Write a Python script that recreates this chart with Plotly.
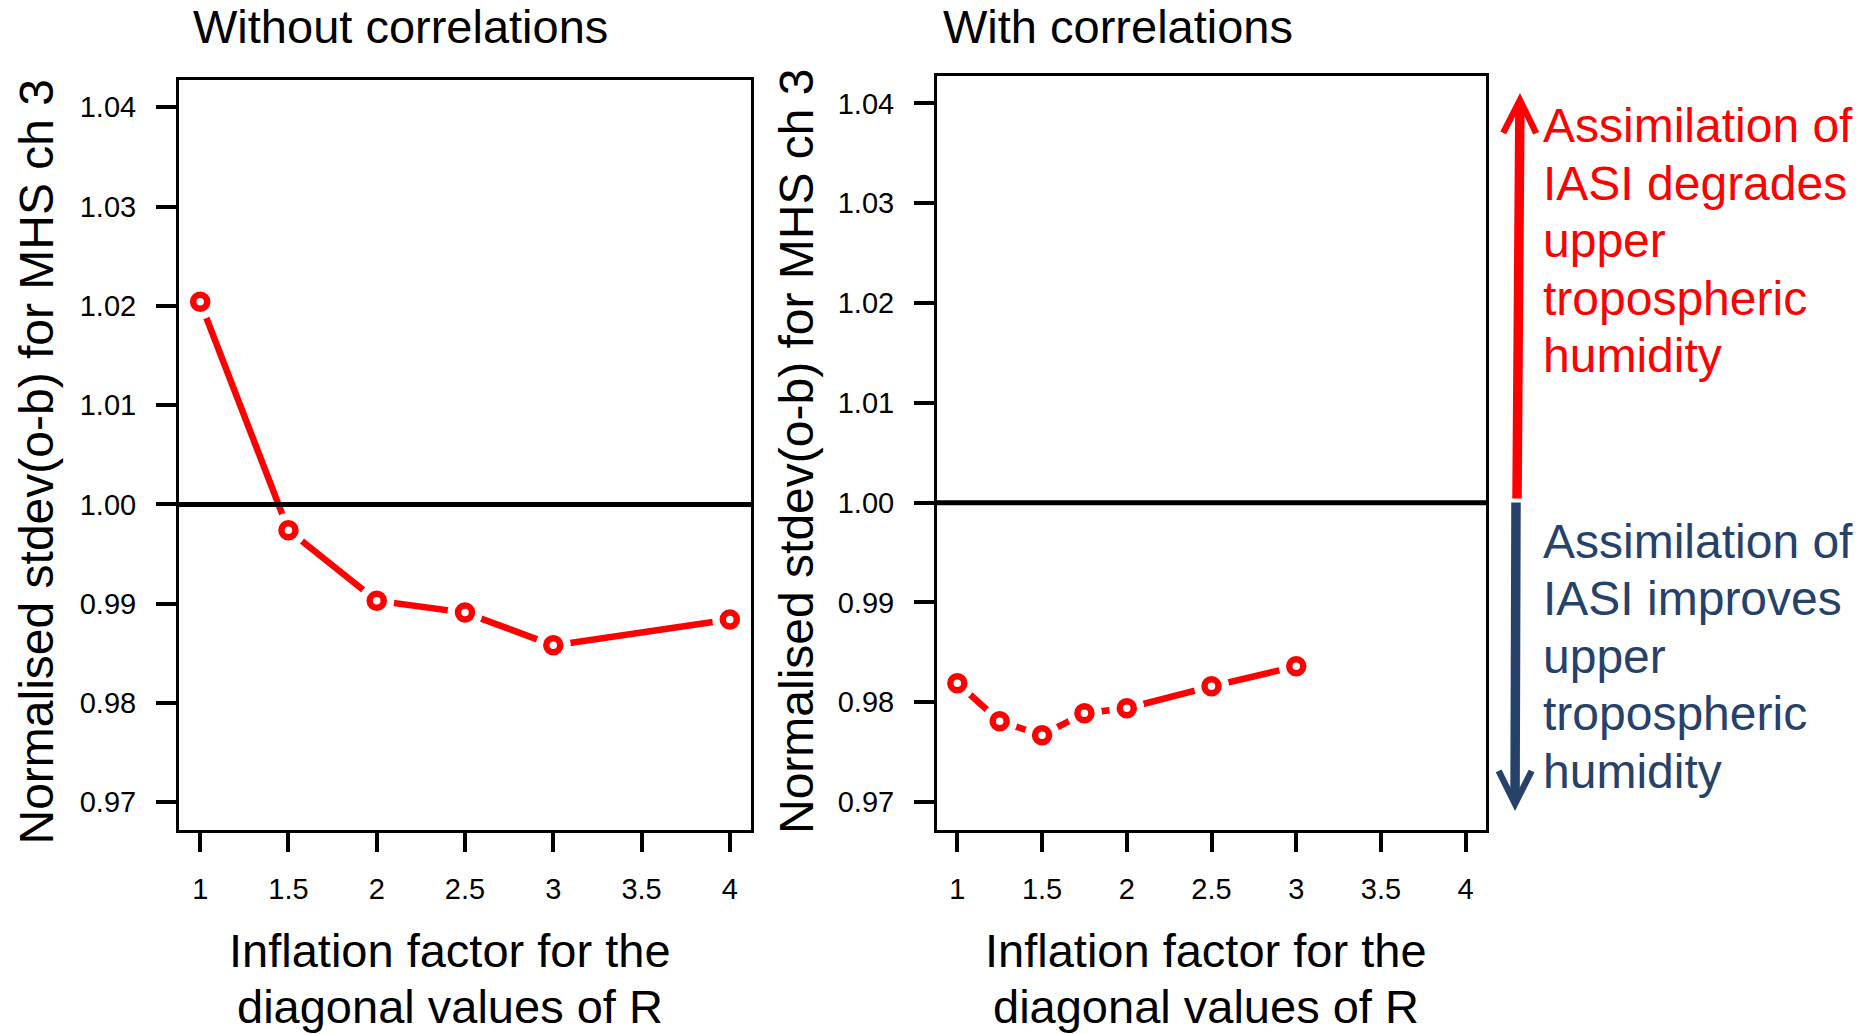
import plotly.graph_objects as go

# ---------------- data ----------------
x_without = [1, 1.5, 2, 2.5, 3, 4]
y_without = [1.0204, 0.9974, 0.9903, 0.9891, 0.9858, 0.9884]

x_with = [1, 1.25, 1.5, 1.75, 2, 2.5, 3]
y_with = [0.9819, 0.9781, 0.9767, 0.9789, 0.9794, 0.9816, 0.9836]

x_ticks = [1, 1.5, 2, 2.5, 3, 3.5, 4]
x_ticklabels = ["1", "1.5", "2", "2.5", "3", "3.5", "4"]
y_ticks = [0.97, 0.98, 0.99, 1.00, 1.01, 1.02, 1.03, 1.04]
y_ticklabels = ["0.97", "0.98", "0.99", "1.00", "1.01", "1.02", "1.03", "1.04"]

panel_titles = ["Without correlations", "With correlations"]
x_title_lines = ["Inflation factor for the", "diagonal values of R"]
y_title = "Normalised stdev(o-b) for MHS ch 3"
red_lines = ["Assimilation of", "IASI degrades", "upper", "tropospheric", "humidity"]
blue_lines = ["Assimilation of", "IASI improves", "upper", "tropospheric", "humidity"]

# ---------------- style ----------------
W, H = 1867, 1034
FONT = "Liberation Sans, Arial, sans-serif"
RED = "#FF0000"
BLUE = "#26416A"

def px_x(p):
    return p / W

def px_y(p):
    return 1 - p / H

fig = go.Figure()

def add_series(xs, ys, xa, ya):
    fig.add_trace(go.Scatter(x=xs, y=ys, xaxis=xa, yaxis=ya, mode="lines",
                             line=dict(color=RED, width=6.5), hoverinfo="skip",
                             showlegend=False))
    fig.add_trace(go.Scatter(x=xs, y=ys, xaxis=xa, yaxis=ya, mode="markers",
                             marker=dict(symbol="circle", size=35, color="white",
                                         line=dict(width=0)),
                             hoverinfo="skip", showlegend=False))
    fig.add_trace(go.Scatter(x=xs, y=ys, xaxis=xa, yaxis=ya, mode="markers",
                             marker=dict(symbol="circle-open", size=14, color=RED,
                                         line=dict(width=6.5, color=RED)),
                             showlegend=False))

add_series(x_without, y_without, "x", "y")
add_series(x_with, y_with, "x2", "y2")

axis_common = dict(showgrid=False, zeroline=False, showline=True, linecolor="black",
                   linewidth=3, mirror=True, ticks="outside", tickwidth=3.5,
                   tickcolor="black", tickfont=dict(family=FONT, size=29, color="black"))

xr = [0.88, 4.12]
yr = [0.9672, 1.0428]

fig.update_layout(
    width=W, height=H, margin=dict(l=0, r=0, t=0, b=0),
    paper_bgcolor="white", plot_bgcolor="white",
    xaxis=dict(domain=[px_x(179), px_x(751)], range=xr, tickvals=x_ticks,
               ticktext=x_ticklabels, ticklen=19, ticklabelstandoff=12, anchor="y",
               **axis_common),
    yaxis=dict(domain=[px_y(830), px_y(79.5)], range=yr, tickvals=y_ticks,
               ticktext=y_ticklabels, ticklen=20, ticklabelstandoff=14, anchor="x",
               **axis_common),
    xaxis2=dict(domain=[px_x(937), px_x(1486)], range=xr, tickvals=x_ticks,
                ticktext=x_ticklabels, ticklen=19, ticklabelstandoff=12, anchor="y2",
                **axis_common),
    yaxis2=dict(domain=[px_y(830), px_y(75.5)], range=yr, tickvals=y_ticks,
                ticktext=y_ticklabels, ticklen=20, ticklabelstandoff=14, anchor="x2",
                **axis_common),
)

# reference line at 1.00
for xref, yref in [("x domain", "y"), ("x2 domain", "y2")]:
    fig.add_shape(type="line", xref=xref, yref=yref, x0=0, x1=1, y0=1.0, y1=1.0,
                  line=dict(color="black", width=5))

ann = []
# panel titles
for txt, cx in zip(panel_titles, [400.7, 1118]):
    ann.append(dict(text=txt, x=px_x(cx), y=px_y(26), xref="paper", yref="paper",
                    xanchor="center", yanchor="middle", showarrow=False,
                    font=dict(family=FONT, size=47, color="black")))
# x titles
for cx in [450, 1205.6]:
    for line, cy in zip(x_title_lines, [950, 1006]):
        ann.append(dict(text=line, x=px_x(cx), y=px_y(cy), xref="paper", yref="paper",
                        xanchor="center", yanchor="middle", showarrow=False,
                        font=dict(family=FONT, size=47, color="black")))
# y titles
for cx, cy in [(35.5, 462), (796, 451)]:
    ann.append(dict(text=y_title, x=px_x(cx), y=px_y(cy), xref="paper", yref="paper",
                    xanchor="center", yanchor="middle", showarrow=False, textangle=-90,
                    font=dict(family=FONT, size=48, color="black")))
# side annotation text
for lines, color, base0 in [(red_lines, RED, 142.5), (blue_lines, BLUE, 558)]:
    for i, line in enumerate(lines):
        cy = base0 + i * 57.5 - 16.6
        ann.append(dict(text=line, x=px_x(1541), y=px_y(cy), xref="paper", yref="paper",
                        xanchor="left", yanchor="middle", showarrow=False,
                        font=dict(family=FONT, size=48, color=color)))
# arrows
ann.append(dict(text="", x=px_x(1520), y=px_y(93), xref="paper", yref="paper",
                ax=-3, ay=407, axref="pixel", ayref="pixel", showarrow=True,
                arrowhead=5, arrowsize=0.68, arrowwidth=9.5, arrowcolor=RED, standoff=0))
ann.append(dict(text="", x=px_x(1515), y=px_y(811), xref="paper", yref="paper",
                ax=1, ay=-310, axref="pixel", ayref="pixel", showarrow=True,
                arrowhead=5, arrowsize=0.68, arrowwidth=9.5, arrowcolor=BLUE, standoff=0))
fig.update_layout(annotations=ann)

fig.write_html("out.html")
